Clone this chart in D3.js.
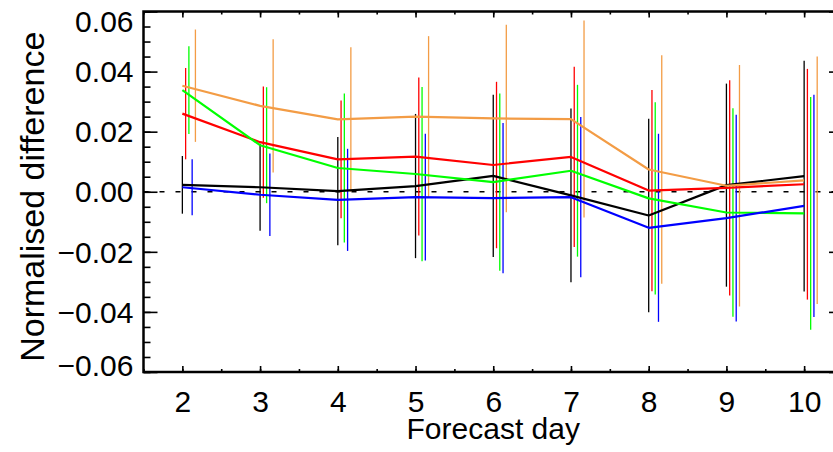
<!DOCTYPE html>
<html>
<head>
<meta charset="utf-8">
<script src="https://cdn.jsdelivr.net/npm/d3@7"></script>
<style>
  body { margin: 0; background: #fff; }
  svg { display: block; overflow: hidden; }
  text { font-family: "Liberation Sans", Arial, Helvetica, sans-serif; fill: #000; }
</style>
</head>
<body>
<script>
// forecast days on the x axis
var days = [2, 3, 4, 5, 6, 7, 8, 9, 10];

// mean normalised difference per series (line values)
var meanBlack  = [0.0023, 0.0015, 0.0002, 0.0019, 0.0053, -0.0012, -0.0079, 0.0022, 0.0052];
var meanRed    = [0.0260, 0.0165, 0.0108, 0.0117, 0.0089, 0.0116, 0.0004, 0.0013, 0.0025];
var meanGreen  = [0.0338, 0.0155, 0.0079, 0.0059, 0.0032, 0.0070, -0.0022, -0.0069, -0.0072];
var meanBlue   = [0.0015, -0.0010, -0.0027, -0.0018, -0.0021, -0.0018, -0.0120, -0.0088, -0.0047];
var meanOrange = [0.0353, 0.0286, 0.0241, 0.0250, 0.0244, 0.0242, 0.0074, 0.0020, 0.0038];

// half width of the error bars
var errBlack  = [0.0096, 0.0145, 0.0180, 0.0240, 0.0270, 0.0289, 0.0322, 0.0338, 0.0384];
var errRed    = [0.0152, 0.0185, 0.0196, 0.0263, 0.0277, 0.0300, 0.0335, 0.0358, 0.0384];
var errGreen  = [0.0146, 0.0193, 0.0248, 0.0290, 0.0295, 0.0286, 0.0320, 0.0347, 0.0387];
var errBlue   = [0.0093, 0.0137, 0.0170, 0.0211, 0.0250, 0.0267, 0.0313, 0.0344, 0.0370];
var errOrange = [0.0187, 0.0222, 0.0240, 0.0268, 0.0312, 0.0328, 0.0380, 0.0402, 0.0412];

var yMajor = [-0.06, -0.04, -0.02, 0.00, 0.02, 0.04, 0.06];

var series = [
  {color: "#000000", mean: meanBlack,  err: errBlack},
  {color: "#ff0000", mean: meanRed,    err: errRed},
  {color: "#00ff00", mean: meanGreen,  err: errGreen},
  {color: "#0000ff", mean: meanBlue,   err: errBlue},
  {color: "#f39c45", mean: meanOrange, err: errOrange}
];

var width = 833, height = 452;
var svg = d3.select("body").append("svg")
    .attr("width", width)
    .attr("height", height);

var x = d3.scaleLinear().domain([1.5, 10.5]).range([143.5, 843]);
var y = d3.scaleLinear().domain([-0.06, 0.06]).range([372, 11.5]);

var yMinor = d3.range(-0.06, 0.0601, 0.005).map(function(v) { return +v.toFixed(3); });
var xMinor = d3.range(1.5, 10.6, 0.5);

// zero line
svg.append("line")
    .attr("x1", x(1.5)).attr("x2", x(10.5))
    .attr("y1", y(0)).attr("y2", y(0))
    .style("stroke", "black")
    .style("stroke-width", 1.5)
    .style("stroke-dasharray", "5,11");

// error bars, shifted a little for each series
var step = 0.042;
series.forEach(function(s, k) {
  svg.append("g").selectAll("line")
      .data(days)
      .enter()
      .append("line")
      .attr("x1", function(d) { return x(d + k * step); })
      .attr("x2", function(d) { return x(d + k * step); })
      .attr("y1", function(d, i) { return y(s.mean[i] + s.err[i]); })
      .attr("y2", function(d, i) { return y(s.mean[i] - s.err[i]); })
      .style("stroke", s.color)
      .style("stroke-width", 1.3);
});

var line = d3.line()
    .x(function(d) { return x(d[0]); })
    .y(function(d) { return y(d[1]); });

series.forEach(function(s) {
  svg.append("path")
      .datum(days.map(function(d, i) { return [d, s.mean[i]]; }))
      .attr("d", line)
      .style("fill", "none")
      .style("stroke", s.color)
      .style("stroke-width", 2.2)
      .style("stroke-linejoin", "round");
});

// axes
var fmt = function(v) { return d3.format(".2f")(v); };

function styleAxis(g) {
  g.select(".domain").remove();
  g.selectAll(".tick line").style("stroke", "black").style("stroke-width", 1.6);
}

svg.append("g")
    .attr("transform", "translate(" + x(1.5) + ",0)")
    .call(d3.axisLeft(y).tickValues(yMajor).tickSize(-14).tickPadding(10).tickFormat(fmt))
    .call(styleAxis)
    .selectAll("text")
    .style("font-size", "30px")
    .attr("dy", function(d) { return d === 0.06 ? "0.65em" : (d === -0.06 ? "0.12em" : "0.34em"); });

svg.append("g")
    .attr("transform", "translate(" + x(1.5) + ",0)")
    .call(d3.axisLeft(y).tickValues(yMinor).tickSize(-7).tickFormat(""))
    .call(styleAxis);

svg.append("g")
    .attr("transform", "translate(" + x(10.5) + ",0)")
    .call(d3.axisRight(y).tickValues(yMajor).tickSize(-14).tickFormat(""))
    .call(styleAxis);

svg.append("g")
    .attr("transform", "translate(" + x(10.5) + ",0)")
    .call(d3.axisRight(y).tickValues(yMinor).tickSize(-7).tickFormat(""))
    .call(styleAxis);

svg.append("g")
    .attr("transform", "translate(0," + y(-0.06) + ")")
    .call(d3.axisBottom(x).tickValues(days).tickSize(-6).tickPadding(19).tickFormat(d3.format("d")))
    .call(styleAxis)
    .selectAll("text")
    .style("font-size", "30px");

svg.append("g")
    .attr("transform", "translate(0," + y(-0.06) + ")")
    .call(d3.axisBottom(x).tickValues(xMinor).tickSize(-3).tickFormat(""))
    .call(styleAxis);

svg.append("g")
    .attr("transform", "translate(0," + y(0.06) + ")")
    .call(d3.axisTop(x).tickValues(days).tickSize(-6).tickFormat(""))
    .call(styleAxis);

svg.append("g")
    .attr("transform", "translate(0," + y(0.06) + ")")
    .call(d3.axisTop(x).tickValues(xMinor).tickSize(-3).tickFormat(""))
    .call(styleAxis);

// frame
svg.append("rect")
    .attr("x", x(1.5))
    .attr("y", y(0.06))
    .attr("width", x(10.5) - x(1.5))
    .attr("height", y(-0.06) - y(0.06))
    .style("fill", "none")
    .style("stroke", "black")
    .style("stroke-width", 2.5);

// titles
svg.append("text")
    .attr("x", (x(1.5) + x(10.5)) / 2)
    .attr("y", 439)
    .attr("text-anchor", "middle")
    .style("font-size", "30px")
    .text("Forecast day");

svg.append("text")
    .attr("transform", "translate(43.5," + ((y(0.06) + y(-0.06)) / 2 + 5) + ") rotate(-90)")
    .attr("text-anchor", "middle")
    .style("font-size", "34px")
    .text("Normalised difference");
</script>
</body>
</html>
